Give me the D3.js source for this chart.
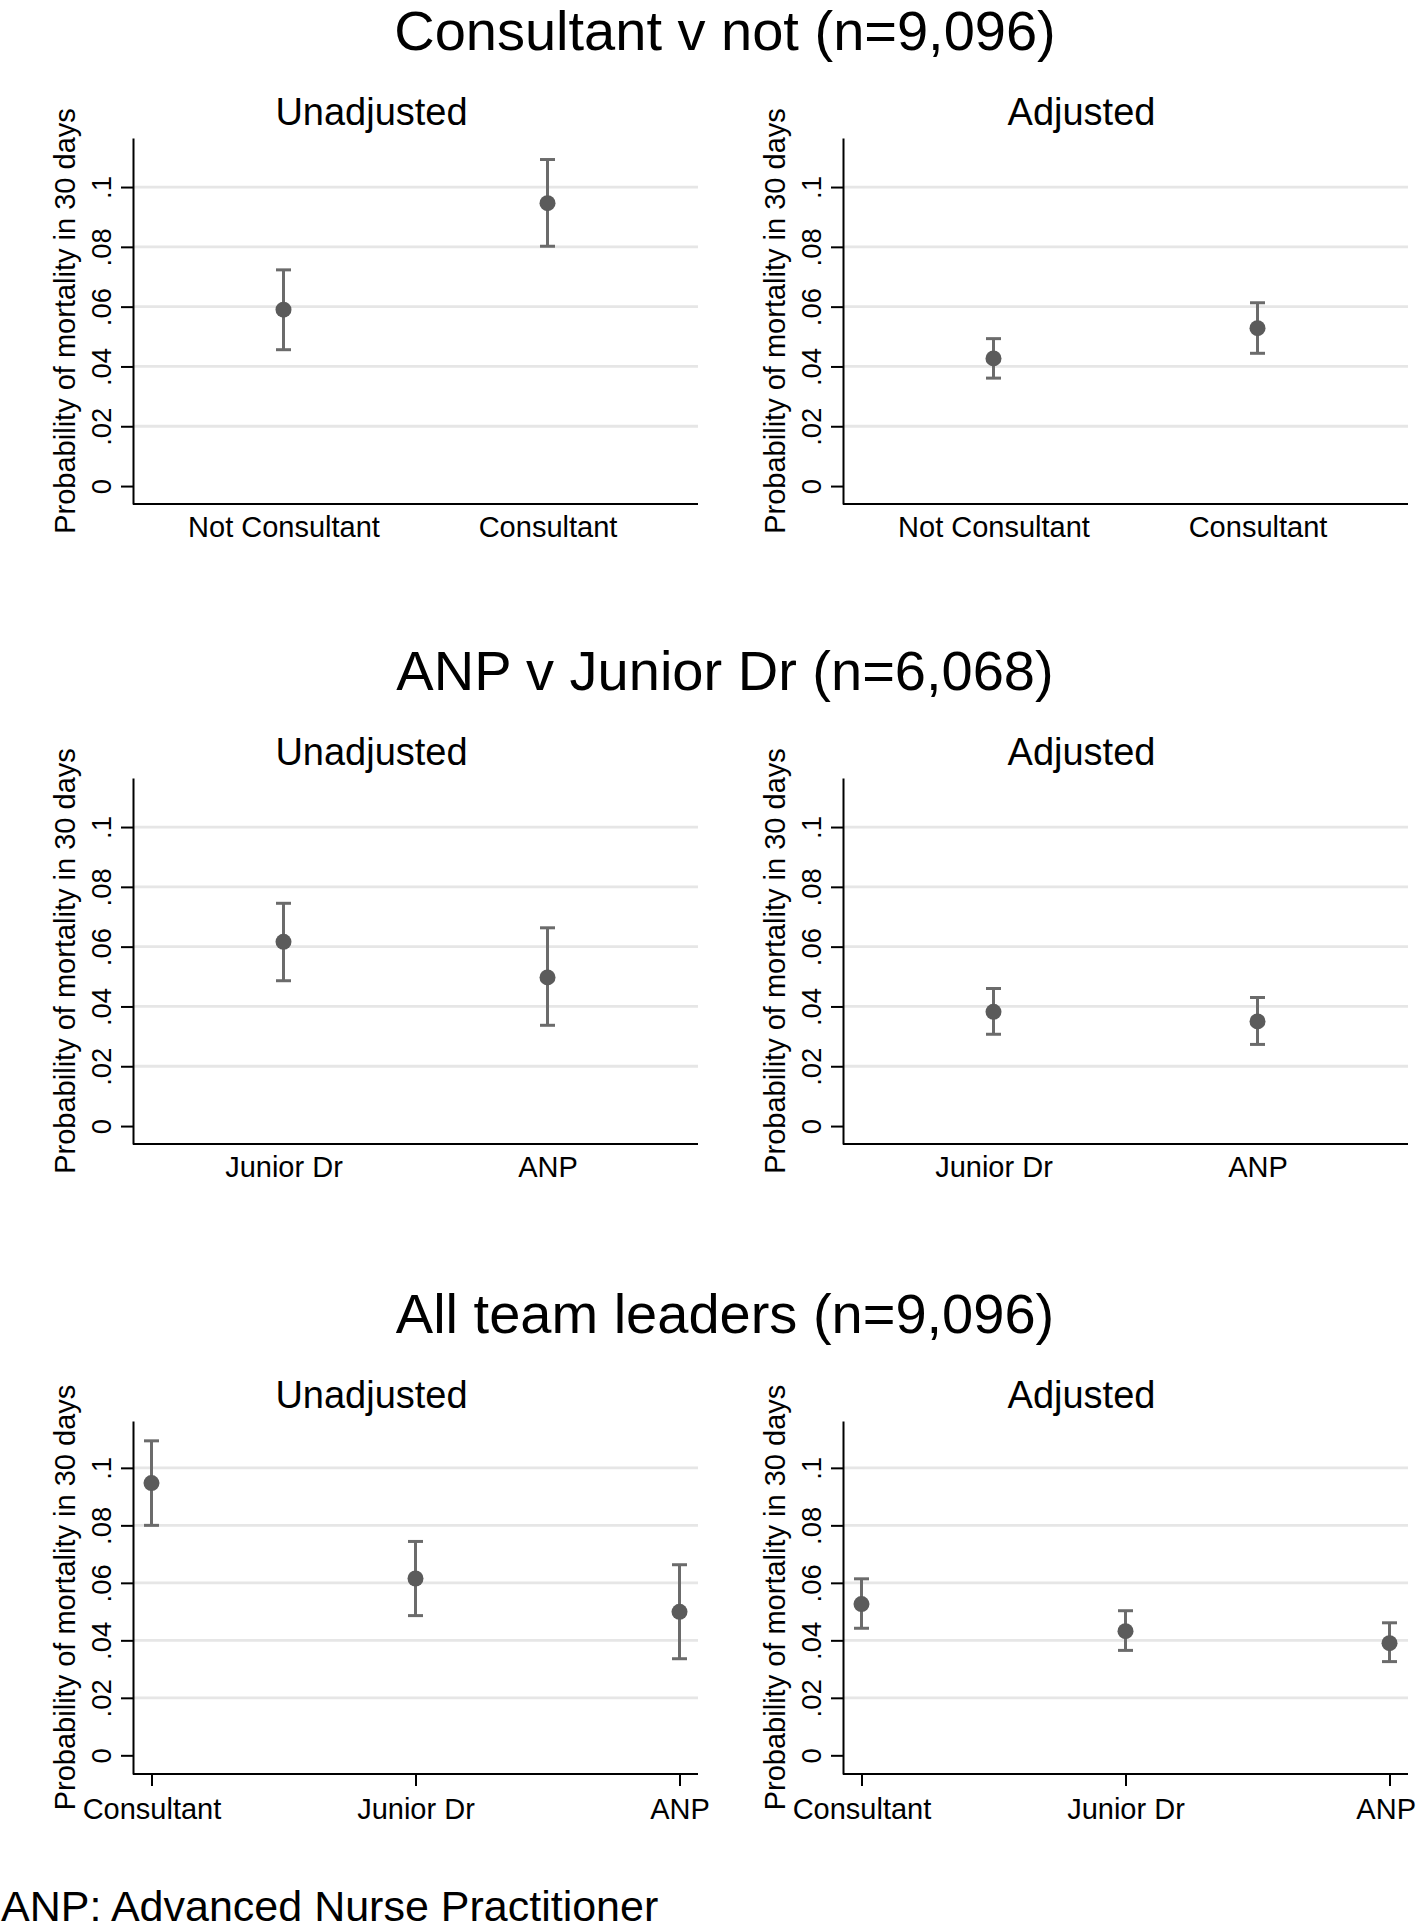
<!DOCTYPE html>
<html>
<head>
<meta charset="utf-8">
<script src="https://cdn.jsdelivr.net/npm/d3@7"></script>
<style>
  html, body { margin: 0; padding: 0; background: #fff; }
  svg { display: block; font-family: "Liberation Sans", Arial, Helvetica, sans-serif; }
</style>
</head>
<body>
<svg id="chart" width="1418" height="1930"></svg>
<script>
// ---------- data ----------
const rowTitles = ["Consultant v not (n=9,096)", "ANP v Junior Dr (n=6,068)", "All team leaders (n=9,096)"];
const panelSubtitles = ["Unadjusted", "Adjusted"];
const yAxisTitle = "Probability of mortality in 30 days";
const footnote = "ANP: Advanced Nurse Practitioner";
const yTickValues = [0, 0.02, 0.04, 0.06, 0.08, 0.1];

const cats1 = ["Not Consultant", "Consultant"];
const cats2 = ["Junior Dr", "ANP"];
const cats3 = ["Consultant", "Junior Dr", "ANP"];

// row 1: Consultant v not
const r1UnadjMean = [0.0590, 0.0946];
const r1UnadjLo   = [0.0456, 0.0802];
const r1UnadjHi   = [0.0723, 0.1092];
const r1AdjMean   = [0.0427, 0.0528];
const r1AdjLo     = [0.0361, 0.0444];
const r1AdjHi     = [0.0493, 0.0613];

// row 2: ANP v Junior Dr
const r2UnadjMean = [0.0616, 0.0497];
const r2UnadjLo   = [0.0486, 0.0337];
const r2UnadjHi   = [0.0745, 0.0663];
const r2AdjMean   = [0.0382, 0.0350];
const r2AdjLo     = [0.0307, 0.0273];
const r2AdjHi     = [0.0460, 0.0430];

// row 3: All team leaders
const r3UnadjMean = [0.0947, 0.0615, 0.0499];
const r3UnadjLo   = [0.0800, 0.0486, 0.0336];
const r3UnadjHi   = [0.1094, 0.0744, 0.0663];
const r3AdjMean   = [0.0526, 0.0432, 0.0390];
const r3AdjLo     = [0.0442, 0.0365, 0.0326];
const r3AdjHi     = [0.0614, 0.0503, 0.0461];

// ---------- layout ----------
const svg = d3.select("#chart");
const markerColor = "#5b5b5b";
const barColor = "#6b6b6b";
const gridColor = "#e6e6e6";
const font = "\"Liberation Sans\", Arial, Helvetica, sans-serif";

const rows = [
  { off: 0,    cats: cats1, xTicks: false, bottom: 504,  top: 138,  yDom: [-0.006, 0.1164], pad: 0.57,
    panels: [ {m: r1UnadjMean, lo: r1UnadjLo, hi: r1UnadjHi}, {m: r1AdjMean, lo: r1AdjLo, hi: r1AdjHi} ] },
  { off: 640,  cats: cats2, xTicks: false, bottom: 504,  top: 138,  yDom: [-0.006, 0.1164], pad: 0.57,
    panels: [ {m: r2UnadjMean, lo: r2UnadjLo, hi: r2UnadjHi}, {m: r2AdjMean, lo: r2AdjLo, hi: r2AdjHi} ] },
  { off: 1283, cats: cats3, xTicks: true,  bottom: 491,  top: 138,  yDom: [-0.0065, 0.1163], pad: 0.07,
    panels: [ {m: r3UnadjMean, lo: r3UnadjLo, hi: r3UnadjHi}, {m: r3AdjMean, lo: r3AdjLo, hi: r3AdjHi} ] }
];
const panelX0 = [133, 843];
const plotW = 565;

const fmt = d => d === 0 ? "0" : d3.format(".2~f")(d).replace(/^0/, "");

rows.forEach((row, ri) => {
  // row title
  svg.append("text")
    .attr("x", 725).attr("y", row.off + 50)
    .attr("text-anchor", "middle")
    .style("font-size", "56px").style("font-family", font)
    .text(rowTitles[ri]);

  row.panels.forEach((p, pi) => {
    const x0 = panelX0[pi];
    const top = row.off + row.top;
    const bottom = row.off + row.bottom;
    const g = svg.append("g");

    const y = d3.scaleLinear().domain(row.yDom).range([bottom, top]);
    const x = d3.scalePoint().domain(row.cats).range([x0, x0 + plotW]).padding(row.pad);

    // subtitle
    g.append("text")
      .attr("x", x0 + 238.5).attr("y", row.off + 125)
      .attr("text-anchor", "middle")
      .style("font-size", "38px").style("font-family", font)
      .text(panelSubtitles[pi]);

    // gridlines
    g.append("g").selectAll("line")
      .data(yTickValues.filter(v => v > 0))
      .join("line")
      .attr("x1", x0).attr("x2", x0 + plotW)
      .attr("y1", d => y(d)).attr("y2", d => y(d))
      .attr("stroke", gridColor).attr("stroke-width", 2.8);

    // y axis
    const ya = g.append("g").attr("transform", `translate(${x0},0)`)
      .call(d3.axisLeft(y).tickValues(yTickValues).tickFormat(fmt).tickSize(12).tickSizeOuter(0));
    ya.select(".domain").attr("stroke", "#000").attr("stroke-width", 2);
    ya.selectAll(".tick line").attr("stroke", "#000").attr("stroke-width", 2);
    ya.selectAll(".tick text")
      .attr("transform", "rotate(-90)")
      .attr("x", 0).attr("y", -22).attr("dy", 0)
      .attr("text-anchor", "middle")
      .style("font-size", "27.5px").style("font-family", font).attr("fill", "#000");

    // y axis title
    g.append("text")
      .attr("transform", `translate(${x0 - 58},${(top + bottom) / 2}) rotate(-90)`)
      .attr("text-anchor", "middle")
      .style("font-size", "29px").style("font-family", font)
      .text(yAxisTitle);

    // x axis
    const xa = g.append("g").attr("transform", `translate(0,${bottom})`)
      .call(d3.axisBottom(x).tickSize(row.xTicks ? 12 : 0).tickSizeOuter(0));
    xa.select(".domain").attr("stroke", "#000").attr("stroke-width", 2)
      .attr("d", `M${x0},0H${x0 + plotW}`);
    xa.selectAll(".tick line").attr("stroke", "#000").attr("stroke-width", 2);
    xa.selectAll(".tick text")
      .attr("y", row.xTicks ? 45 : 33).attr("dy", 0)
      .style("font-size", "29px").style("font-family", font).attr("fill", "#000");
    // keep labels inside the canvas
    xa.selectAll(".tick text").each(function () {
      const b = this.getBoundingClientRect();
      if (b.right > 1416) d3.select(this).attr("dx", -(b.right - 1416));
    });

    // error bars
    const data = row.cats.map((c, i) => ({ c, m: p.m[i], lo: p.lo[i], hi: p.hi[i] }));
    const eb = g.append("g").attr("stroke", barColor).attr("stroke-width", 3).attr("fill", "none");
    eb.selectAll("line.v").data(data).join("line").attr("class", "v")
      .attr("x1", d => x(d.c)).attr("x2", d => x(d.c))
      .attr("y1", d => y(d.lo)).attr("y2", d => y(d.hi));
    eb.selectAll("line.t").data(data).join("line").attr("class", "t")
      .attr("x1", d => x(d.c) - 7.5).attr("x2", d => x(d.c) + 7.5)
      .attr("y1", d => y(d.hi)).attr("y2", d => y(d.hi));
    eb.selectAll("line.b").data(data).join("line").attr("class", "b")
      .attr("x1", d => x(d.c) - 7.5).attr("x2", d => x(d.c) + 7.5)
      .attr("y1", d => y(d.lo)).attr("y2", d => y(d.lo));

    // markers
    g.append("g").selectAll("circle").data(data).join("circle")
      .attr("cx", d => x(d.c)).attr("cy", d => y(d.m)).attr("r", 8)
      .attr("fill", markerColor);
  });
});

// footnote
svg.append("text")
  .attr("x", 1).attr("y", 1921)
  .style("font-size", "43px").style("font-family", font)
  .text(footnote);
</script>
</body>
</html>
